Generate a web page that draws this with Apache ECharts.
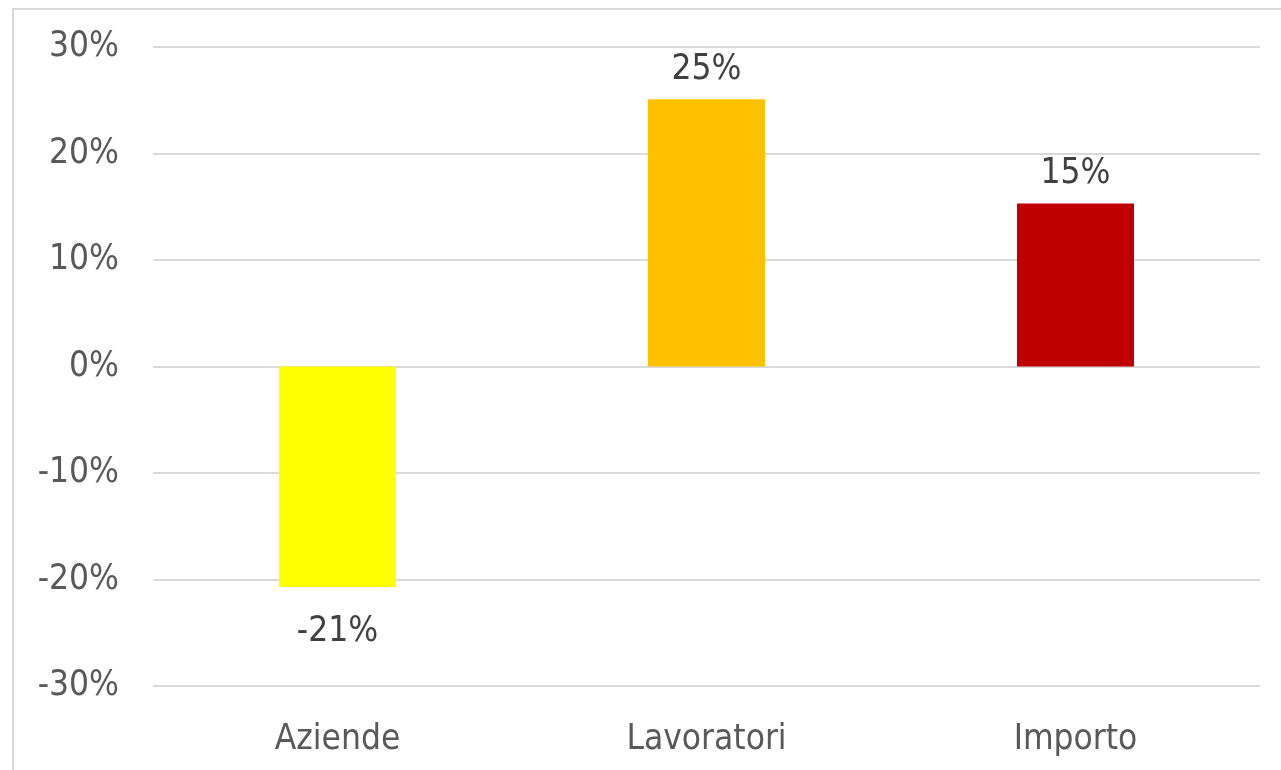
<!DOCTYPE html>
<html>
<head>
<meta charset="utf-8" />
<title>Variazione</title>
<style>
  html, body { margin: 0; padding: 0; background: #fff; }
  #chartBox { width: 1281px; height: 770px; }
</style>
</head>
<body>
<div id="chartBox"></div>
<script src="https://cdn.jsdelivr.net/npm/echarts@6/dist/echarts.min.js"></script>
<script>
var categories = ['Aziende', 'Lavoratori', 'Importo'];
var values = [-20.7, 25.1, 15.3];
var colors = ['#ffff00', '#ffc000', '#c00000'];
var yTicks = [-30, -20, -10, 0, 10, 20, 30];

var _font = '"DejaVu Sans Condensed", Tahoma, sans-serif';
var _fontSize = 35;

var myChart = echarts.init(document.getElementById('chartBox'));

// negative bars get their label underneath
var barData = values.map(function (v, i) {
  return {
    value: v,
    itemStyle: { color: colors[i] },
    label: v < 0 ? { position: 'bottom', distance: 27 } : { position: 'top', distance: 12 }
  };
});

var option = {
  animation: false,
  graphic: [{
    type: 'rect',
    shape: { x: 13, y: 9, width: 1320, height: 820 },
    style: { fill: 'none', stroke: '#d9d9d9', lineWidth: 2 },
    silent: true
  }],
  grid: { left: 153, right: 21, top: 47, bottom: 84, containLabel: false },
  xAxis: {
    type: 'category',
    data: categories,
    axisLine: { show: false, onZero: false },
    axisTick: { show: false },
    axisLabel: { color: '#595959', fontSize: _fontSize, fontFamily: _font, margin: 36 }
  },
  yAxis: {
    type: 'value',
    min: yTicks[0],
    max: yTicks[yTicks.length - 1],
    interval: 10,
    axisLine: { show: false },
    axisTick: { show: false },
    splitLine: { lineStyle: { color: '#d9d9d9', width: 2 } },
    axisLabel: {
      color: '#595959', fontSize: _fontSize, fontFamily: _font, margin: 34,
      padding: [6, 0, 0, 0],
      formatter: function (v) { return v + '%'; }
    }
  },
  series: [{
    type: 'bar',
    data: barData,
    barWidth: 117,
    label: {
      show: true,
      color: '#404040',
      fontSize: _fontSize,
      fontFamily: _font,
      formatter: function (p) { return Math.round(p.value) + '%'; }
    }
  }]
};
myChart.setOption(option);
</script>
</body>
</html>
